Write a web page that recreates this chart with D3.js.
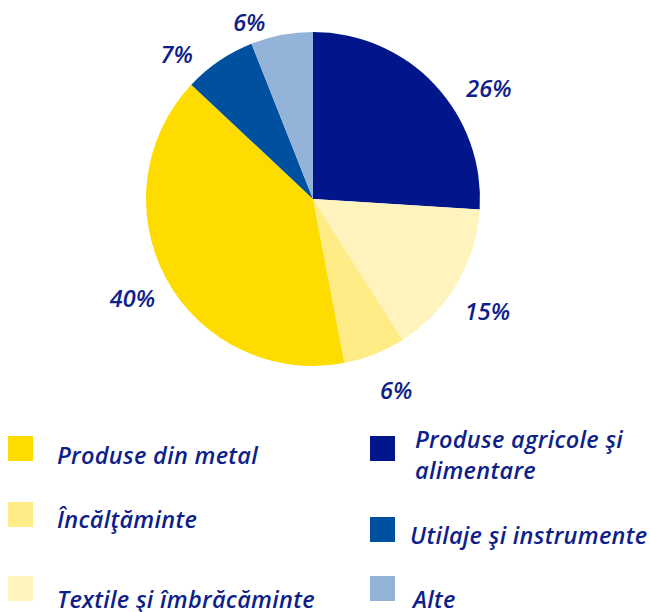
<!DOCTYPE html>
<html>
<head>
<meta charset="utf-8">
<script src="https://cdn.jsdelivr.net/npm/d3@7"></script>
<style>
  body { margin: 0; background: #fff; }
  text { font-family: "Open Sans", "Noto Sans", sans-serif; font-style: italic; font-weight: 600; fill: #0f1f8a; }
</style>
</head>
<body>
<svg id="chart"></svg>
<script>
// categories in drawing order (clockwise from 12 o'clock)
const categories = ["Produse agricole şi alimentare", "Textile şi îmbrăcăminte", "Încălţăminte",
                    "Produse din metal", "Utilaje şi instrumente", "Alte"];
const shares = [26, 15, 6, 40, 7, 6];
const colors = ["#00168a", "#fff4bd", "#ffec86", "#ffdc00", "#0050a0", "#93b3d8"];

// legend order as in the picture (left column, then right column)
const legendLeft = ["Produse din metal", "Încălţăminte", "Textile şi îmbrăcăminte"];
const legendRight = ["Produse agricole şi alimentare", "Utilaje şi instrumente", "Alte"];

const width = 650, height = 612;
const cx = 313, cy = 199, radius = 167;

// small label placement tweaks (degrees, px), labels are not exactly on the slice middles
const labelTurn = [11, 2, -2, 0, -9, -9];
const labelRadius = [208, 207, 208, 206, 199, 188];

const svg = d3.select("svg#chart")
  .attr("width", width)
  .attr("height", height);

const colorOf = d3.scaleOrdinal()
  .domain(categories)
  .range(colors);

const pie = d3.pie()
  .value(d => d.value)
  .sort(null);

const slices = pie(categories.map((c, i) => ({ name: c, value: shares[i], i: i })));

const arc = d3.arc()
  .innerRadius(0)
  .outerRadius(radius);

const g = svg.append("g")
  .attr("transform", "translate(" + cx + "," + cy + ")");

g.selectAll("path.slice")
  .data(slices)
  .enter().append("path")
  .attr("class", "slice")
  .attr("fill", d => colorOf(d.data.name))
  .attr("d", arc);

// percent labels
g.selectAll("text.pct")
  .data(slices)
  .enter().append("text")
  .attr("class", "pct")
  .attr("text-anchor", "middle")
  .attr("dominant-baseline", "central")
  .style("font-size", "23.5px")
  .attr("transform", d => {
    const mid = (d.startAngle + d.endAngle) / 2 + labelTurn[d.data.i] * Math.PI / 180;
    const r = labelRadius[d.data.i];
    return "translate(" + (Math.sin(mid) * r) + "," + (-Math.cos(mid) * r) + ")";
  })
  .text(d => d.data.value + "%");

// LEGEND
const box = 25;
const legendCols = [
  { names: legendLeft, x: 8, textX: 57, rows: [436, 502, 576], dy: [19, 17, 23] },
  { names: legendRight, x: 370, textX: 413, rows: [436, 517, 576], dy: [3, 17.5, 23] }
];

legendCols.forEach(col => {
  const item = svg.append("g").selectAll("g")
    .data(col.names)
    .enter().append("g")
    .attr("transform", (d, i) => "translate(0," + col.rows[i] + ")");

  item.append("rect")
    .attr("x", col.x)
    .attr("width", box)
    .attr("height", box)
    .attr("fill", d => colorOf(d));

  item.append("text")
    .attr("x", col.textX)
    .attr("dominant-baseline", "central")
    .style("font-size", "23.5px")
    .style("letter-spacing", "0.3px")
    .each(function(d, i) {
      const t = d3.select(this);
      const dy = col.dy[col.names.indexOf(d)];
      if (d === "Produse agricole şi alimentare") {
        t.append("tspan").attr("x", col.textX + 2).attr("y", dy).text("Produse agricole şi");
        t.append("tspan").attr("x", col.textX + 2).attr("y", dy + 31).text("alimentare");
      } else if (d === "Utilaje şi instrumente") {
        t.attr("x", col.textX - 3).attr("y", dy).text(d);
      } else {
        t.attr("y", dy).text(d);
      }
    });
});
</script>
</body>
</html>
